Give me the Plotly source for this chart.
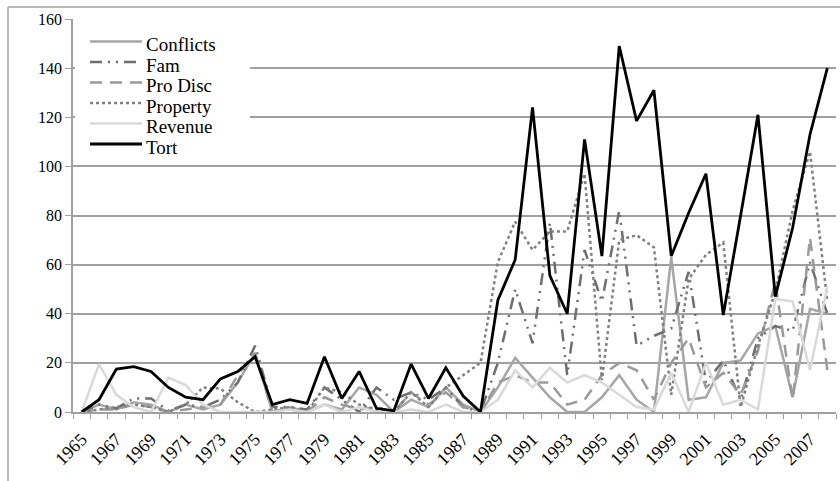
import plotly.graph_objects as go

years = list(range(1965, 2009))

conflicts = [0, 3, 1, 4, 3, 0, 3, 1, 3, 12, 24, 0, 2, 0, 3, 1, 10, 7, 0, 5, 2, 10, 3, 0,
             10, 22, 14, 6, 0, 0, 6, 15, 5, 0, 63, 5, 6, 20, 21, 32, 35, 6, 42, 40]
fam = [0, 3, 1.5, 5.5, 5.5, 0.5, 3, 2, 5, 12, 27, 2, 2, 1, 10, 5, 0, 10, 5, 8, 5, 10, 2, 0,
       20, 50, 28, 77, 15, 66, 45, 82, 27, 31, 34, 57, 12, 21, 5, 30, 35, 33, 61, 40]
pro_disc = [0, 1, 1, 3, 2, 0, 1, 2, 3, 15, 24, 0, 1, 0, 6, 3, 1, 2, 0, 8, 3, 8, 2, 0,
            12, 15, 12, 12, 3, 5, 15, 20, 17, 5, 20, 30, 10, 16, 7, 25, 53, 5, 71, 17]
property_ = [0, 1, 2, 3, 2, 0, 3, 10, 9.5, 4, 0, 1, 2, 0, 10, 8, 3, 1, 0, 8, 2, 10, 15, 20,
             61, 77.5, 66, 73.5, 73.5, 97, 13, 70, 72, 67, 7, 54, 64, 69, 2, 27, 49, 82, 106, 45]
revenue = [0, 19.5, 7, 2, 0, 14, 11, 3, 0, 0, 0, 0, 1, 0, 3, 0, 2, 0, 0, 1, 0, 3, 0, 0,
           5, 17, 10, 18, 12, 15, 12, 7, 2, 1, 16, 0, 20, 3, 5, 1, 46, 45, 17, 51]
tort = [0, 5, 17.5, 18.5, 16.5, 10, 6, 5, 13.5, 16.5, 22.5, 3, 5, 3.5, 22.5, 5.5, 16.5, 1.5, 0.5, 19.5,
        5.5, 18, 6.5, 0, 45.5, 62, 124, 55.5, 40, 111, 63.5, 149, 118.5, 131, 63.5, 81, 97, 39.5, 80, 121,
        47, 75, 113, 140]

label_years = list(range(1965, 2008, 2))
y_ticks = list(range(0, 161, 20))

SERIF = '"Liberation Serif", "DejaVu Serif", serif'

series = [
    ("Conflicts", conflicts, "#a6a6a6", "solid", 2.5),
    ("Fam", fam, "#6e6e6e", "12px,6px,2px,6px,2px,6px", 2.5),
    ("Pro Disc", pro_disc, "#9a9a9a", "12px,8px", 2.5),
    ("Property", property_, "#808080", "dot", 2.5),
    ("Revenue", revenue, "#d9d9d9", "solid", 2.5),
    ("Tort", tort, "#000000", "solid", 2.8),
]

W, H = 840, 481
L, R, T, B = 73, 4, 19, 69
pw, ph = W - L - R, H - T - B


def px(x):
    return (x - L) / pw


def py(y):
    return 1 - (y - T) / ph


fig = go.Figure()
for name, vals, color, dash, w in series:
    fig.add_trace(go.Scatter(x=years, y=vals, mode="lines", name=name,
                             line=dict(color=color, dash=dash, width=w)))

fig.update_layout(
    width=W, height=H,
    margin=dict(l=L, r=R, t=T, b=B),
    paper_bgcolor="white", plot_bgcolor="white",
    font=dict(family=SERIF, color="black", size=16),
    showlegend=False,
    xaxis=dict(range=[1964.5, 2008.5], tickmode="array", tickvals=label_years,
               ticktext=[str(y) for y in label_years], tickangle=-45,
               ticks="", showgrid=False, showline=True, linecolor="#a0a0a0", linewidth=1.5,
               zeroline=False, automargin=False, ticklabelstandoff=8,
               minor=dict(tickmode="array", tickvals=[1964.5 + i for i in range(45)],
                          ticks="outside", ticklen=5, tickcolor="#a0a0a0", tickwidth=1.2,
                          showgrid=False),
               tickfont=dict(size=18, family=SERIF)),
    yaxis=dict(range=[0, 160], tickmode="array", tickvals=y_ticks,
               showgrid=True, gridcolor="#a0a0a0", gridwidth=1.5,
               showline=True, linecolor="#a0a0a0", linewidth=1.5,
               ticks="outside", ticklen=6, tickcolor="#a0a0a0", tickwidth=1.2,
               zeroline=False, automargin=False, tickfont=dict(size=16, family=SERIF)),
)

# outer chart frame (top and left edges visible in the reference)
fig.add_shape(type="line", xref="paper", yref="paper", x0=px(8), x1=px(842), y0=py(7), y1=py(7),
              line=dict(color="#a0a0a0", width=1.5))
fig.add_shape(type="line", xref="paper", yref="paper", x0=px(8), x1=px(8), y0=py(7), y1=py(485),
              line=dict(color="#a0a0a0", width=1.5))

# legend box (white background hiding gridlines) with sample lines and labels
fig.add_shape(type="rect", xref="paper", yref="paper", x0=px(75), x1=px(250), y0=py(31), y1=py(156),
              fillcolor="white", line=dict(width=0), layer="above")
row_y = [41.5, 62, 82.5, 103, 123.5, 144]
for (name, vals, color, dash, w), yy in zip(series, row_y):
    fig.add_shape(type="line", xref="paper", yref="paper", x0=px(90), x1=px(142), y0=py(yy), y1=py(yy),
                  line=dict(color=color, dash=dash, width=w), layer="above")
    fig.add_annotation(text=name, xref="paper", yref="paper", x=px(144), y=py(yy + 3),
                       xanchor="left", yanchor="middle", showarrow=False,
                       font=dict(size=19, family=SERIF, color="black"))

fig.write_html("out.html", config={"displayModeBar": False},
               post_script="document.body.style.margin='0';document.body.style.padding='0';")
